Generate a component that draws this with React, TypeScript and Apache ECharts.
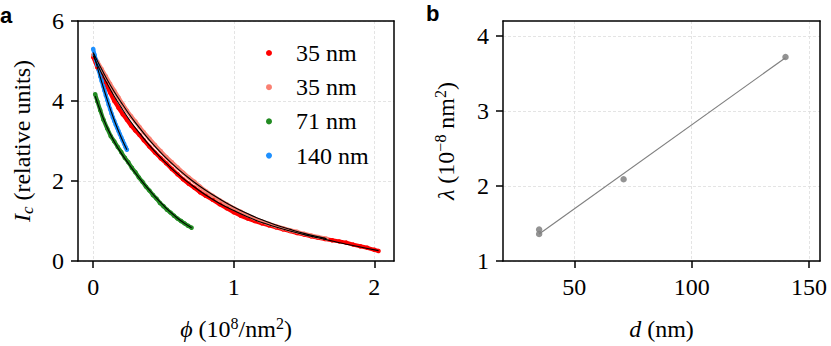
import React, { useEffect, useRef } from 'react';
import * as echarts from 'echarts';

// Panel a: critical current vs fluence
const phiRed35 = [0, 0.03, 0.06, 0.09, 0.12, 0.15, 0.18, 0.21, 0.24, 0.27, 0.3, 0.33, 0.36, 0.4, 0.44, 0.48, 0.52, 0.56, 0.6, 0.64, 0.68, 0.72, 0.76, 0.8, 0.85, 0.9, 0.95, 1.0, 1.05, 1.1, 1.15, 1.2, 1.25, 1.3, 1.35, 1.4, 1.45, 1.5, 1.55, 1.6, 1.65, 1.7, 1.75, 1.8, 1.85, 1.9, 1.95, 2.0, 2.03];
const icRed35 = [5.1, 4.84, 4.63, 4.43, 4.21, 4.0, 3.83, 3.67, 3.53, 3.38, 3.26, 3.15, 3.02, 2.86, 2.71, 2.57, 2.44, 2.3, 2.17, 2.04, 1.93, 1.83, 1.72, 1.63, 1.53, 1.42, 1.32, 1.22, 1.13, 1.06, 1.0, 0.94, 0.89, 0.84, 0.79, 0.75, 0.7, 0.66, 0.62, 0.58, 0.55, 0.52, 0.49, 0.46, 0.41, 0.37, 0.33, 0.28, 0.25];

const phiSalmon35 = [0, 0.03, 0.06, 0.09, 0.12, 0.15, 0.18, 0.21, 0.24, 0.27, 0.3, 0.33, 0.36, 0.4, 0.44, 0.48, 0.52, 0.56, 0.6, 0.64, 0.68, 0.72, 0.76, 0.8, 0.85, 0.9, 0.95, 1.0, 1.05, 1.1, 1.15, 1.2, 1.25, 1.3, 1.35, 1.4, 1.45, 1.5, 1.55, 1.6, 1.66];
const icSalmon35 = [5.15, 4.98, 4.8, 4.62, 4.43, 4.26, 4.09, 3.92, 3.76, 3.62, 3.49, 3.35, 3.22, 3.06, 2.9, 2.75, 2.6, 2.47, 2.34, 2.21, 2.09, 1.98, 1.86, 1.75, 1.63, 1.52, 1.42, 1.32, 1.23, 1.14, 1.06, 0.99, 0.93, 0.87, 0.82, 0.77, 0.73, 0.68, 0.64, 0.6, 0.56];

const phiGreen71 = [0.014, 0.03, 0.05, 0.073, 0.1, 0.125, 0.15, 0.175, 0.2, 0.225, 0.25, 0.275, 0.3, 0.325, 0.35, 0.375, 0.4, 0.425, 0.45, 0.475, 0.5, 0.525, 0.55, 0.575, 0.6, 0.625, 0.65, 0.675, 0.7];
const icGreen71 = [4.17, 3.99, 3.77, 3.53, 3.31, 3.12, 2.99, 2.85, 2.72, 2.58, 2.47, 2.33, 2.22, 2.09, 1.98, 1.86, 1.76, 1.65, 1.56, 1.45, 1.37, 1.28, 1.21, 1.13, 1.06, 1.0, 0.94, 0.88, 0.83];

const phiBlue140 = [0, 0.01, 0.02, 0.03, 0.04, 0.05, 0.06, 0.07, 0.08, 0.09, 0.1, 0.11, 0.12, 0.13, 0.14, 0.15, 0.16, 0.17, 0.18, 0.19, 0.2, 0.21, 0.22, 0.23, 0.24];
const icBlue140 = [5.3, 5.15, 5.02, 4.9, 4.76, 4.62, 4.5, 4.38, 4.26, 4.14, 4.03, 3.91, 3.8, 3.69, 3.59, 3.5, 3.41, 3.33, 3.25, 3.17, 3.09, 3.01, 2.93, 2.85, 2.78];

// Fitted curves (black)
const phiFitRed = [0, 0.05, 0.1, 0.15, 0.2, 0.25, 0.3, 0.4, 0.5, 0.6, 0.7, 0.8, 0.9, 1.0, 1.1, 1.2, 1.3, 1.4, 1.5, 1.6, 1.7, 1.8, 1.9, 2.03];
const icFitRed = [5.13, 4.76, 4.43, 4.12, 3.84, 3.57, 3.33, 2.89, 2.51, 2.18, 1.9, 1.65, 1.44, 1.26, 1.1, 0.96, 0.85, 0.75, 0.66, 0.58, 0.5, 0.42, 0.35, 0.26];
const phiFitSalmon = [0, 0.05, 0.1, 0.15, 0.2, 0.25, 0.3, 0.4, 0.5, 0.6, 0.7, 0.8, 0.9, 1.0, 1.1, 1.2, 1.3, 1.4, 1.5, 1.66];
const icFitSalmon = [5.21, 4.86, 4.53, 4.23, 3.96, 3.7, 3.46, 3.02, 2.64, 2.31, 2.02, 1.77, 1.55, 1.35, 1.18, 1.03, 0.9, 0.79, 0.69, 0.56];
const phiFitGreen = [0.014, 0.05, 0.1, 0.15, 0.2, 0.25, 0.3, 0.35, 0.4, 0.45, 0.5, 0.55, 0.6, 0.65, 0.7];
const icFitGreen = [4.12, 3.76, 3.33, 2.98, 2.69, 2.44, 2.2, 1.98, 1.77, 1.57, 1.39, 1.22, 1.07, 0.94, 0.83];
const phiFitBlue = [0.003, 0.05, 0.1, 0.15, 0.2, 0.24];
const icFitBlue = [5.18, 4.6, 4.03, 3.52, 3.08, 2.78];

// Panel b: lambda vs thickness
const thickness = [35, 35, 71, 140];
const lambdaVals = [1.36, 1.42, 2.09, 3.72];
const thicknessFit = [35, 140];
const lambdaFit = [1.36, 3.71];

// Ticks
const xTicksA = [0, 1, 2];
const yTicksA = [0, 2, 4, 6];
const xTicksB = [50, 100, 150];
const yTicksB = [1, 2, 3, 4];

const legendNames = ['35 nm', '35 nm ', '71 nm', '140 nm'];

export default function App() {
  const ref = useRef<HTMLDivElement>(null);
  useEffect(() => {
    const chart = echarts.init(ref.current!, null, { renderer: 'svg' });
    const zip = (xs: number[], ys: number[]) => xs.map((x, i) => [x, ys[i]]);
    const serif = "'Liberation Serif', 'Times New Roman', serif";
    const FS = 24;
    const rich = {
      it: { fontFamily: serif, fontSize: FS, fontStyle: 'italic', color: '#000', lineHeight: 28 },
      n: { fontFamily: serif, fontSize: FS, color: '#000', lineHeight: 28 },
      sup: { fontFamily: serif, fontSize: 16, color: '#000', verticalAlign: 'top', lineHeight: 13 },
      sub: { fontFamily: serif, fontSize: 17, fontStyle: 'italic', color: '#000', verticalAlign: 'bottom', lineHeight: 9 },
    };
    const axisCommon = (ticks: number[]) => ({
      type: 'value',
      axisLine: { show: true, onZero: false, lineStyle: { color: '#000', width: 1.5 } },
      axisTick: { show: true, inside: false, length: 7, lineStyle: { color: '#000', width: 1.5 }, customValues: ticks },
      axisLabel: {
        customValues: ticks,
        fontFamily: serif,
        fontSize: FS,
        color: '#000',
        margin: 14,
      },
      splitLine: { show: true, lineStyle: { color: '#dddddd', type: [3, 2], width: 0.8 } },
      nameLocation: 'middle',
      nameTextStyle: { fontFamily: serif, fontSize: FS, color: '#000', rich },
    });
    const spine = (pos: string, gridIndex: number, min: number, max: number) => ({
      type: 'value',
      gridIndex,
      position: pos,
      min,
      max,
      z: 10,
      axisLine: { show: true, onZero: false, lineStyle: { color: '#000', width: 1.5 } },
      axisTick: { show: false },
      axisLabel: { show: false },
      splitLine: { show: false },
    });
    const dataSeries = (name: string, xs: number[], ys: number[], color: string) => ({
      name,
      type: 'line',
      xAxisIndex: 0,
      yAxisIndex: 0,
      data: zip(xs, ys),
      symbol: 'circle',
      symbolSize: 4.5,
      showSymbol: true,
      lineStyle: { color, width: 4 },
      itemStyle: { color },
      emphasis: { disabled: true },
    });
    const fitSeries = (xs: number[], ys: number[]) => ({
      type: 'line',
      xAxisIndex: 0,
      yAxisIndex: 0,
      data: zip(xs, ys),
      symbol: 'none',
      smooth: 0.4,
      lineStyle: { color: '#000', width: 1.1 },
      z: 5,
      emphasis: { disabled: true },
    });
    const option = {
      animation: false,
      backgroundColor: '#fff',
      textStyle: { fontFamily: serif },
      grid: [
        { left: 78, top: 21, width: 316, height: 240, show: false },
        { left: 503, top: 21, width: 317, height: 240, show: false },
      ],
      xAxis: [
        {
          ...axisCommon(xTicksA),
          gridIndex: 0,
          min: -0.108,
          max: 2.14,
          name: '{it|ϕ}{n| (10}{sup|8}{n|/nm}{sup|2}{n|)}',
          nameGap: 54,
        },
        {
          ...axisCommon(xTicksB),
          gridIndex: 1,
          min: 19.6,
          max: 154.7,
          name: '{it|d}{n| (nm)}',
          nameGap: 54,
        },
        spine('top', 0, -0.108, 2.14),
        spine('top', 1, 19.6, 154.7),
      ],
      yAxis: [
        {
          ...axisCommon(yTicksA),
          gridIndex: 0,
          min: 0,
          max: 6,
          name: '{it|I}{sub|c}{n| (relative units)}',
          nameGap: 42,
          nameRotate: 90,
        },
        {
          ...axisCommon(yTicksB),
          gridIndex: 1,
          min: 1,
          max: 4.2,
          name: '{it|λ}{n| (10}{sup|−8}{n| nm}{sup|2}{n|)}',
          nameGap: 43,
          nameRotate: 90,
        },
        spine('right', 0, 0, 6),
        spine('right', 1, 1, 4.2),
      ],
      legend: {
        data: legendNames,
        orient: 'vertical',
        left: 266,
        top: 41,
        padding: 0,
        icon: 'circle',
        itemWidth: 6,
        itemHeight: 6,
        itemGap: 10.2,
        selectedMode: false,
        formatter: (n: string) => n.trim(),
        textStyle: { fontFamily: serif, fontSize: FS, color: '#000', lineHeight: 24, padding: [0, 0, 0, 19] },
      },
      series: [
        dataSeries(legendNames[0], phiRed35, icRed35, '#ff0000'),
        dataSeries(legendNames[1], phiSalmon35, icSalmon35, '#fa8072'),
        dataSeries(legendNames[2], phiGreen71, icGreen71, '#228b22'),
        dataSeries(legendNames[3], phiBlue140, icBlue140, '#1e90ff'),
        fitSeries(phiFitRed, icFitRed),
        fitSeries(phiFitSalmon, icFitSalmon),
        fitSeries(phiFitGreen, icFitGreen),
        fitSeries(phiFitBlue, icFitBlue),
        {
          type: 'line',
          xAxisIndex: 1,
          yAxisIndex: 1,
          data: zip(thicknessFit, lambdaFit),
          symbol: 'none',
          lineStyle: { color: '#808080', width: 1.2 },
          emphasis: { disabled: true },
        },
        {
          type: 'scatter',
          xAxisIndex: 1,
          yAxisIndex: 1,
          data: zip(thickness, lambdaVals),
          symbolSize: 6.5,
          itemStyle: { color: '#808080', opacity: 0.85 },
          emphasis: { disabled: true },
        },
      ],
      graphic: [
        { type: 'text', left: 0, top: 4, style: { text: 'a', font: 'bold 22px "Liberation Sans"', fill: '#000' } },
        { type: 'text', left: 426, top: 2, style: { text: 'b', font: 'bold 22px "Liberation Sans"', fill: '#000' } },
      ],
    };
    chart.setOption(option as any);
    return () => chart.dispose();
  }, []);
  return <div ref={ref} style={{ position: 'absolute', left: 0, top: 0, width: 831, height: 346 }} />;
}
